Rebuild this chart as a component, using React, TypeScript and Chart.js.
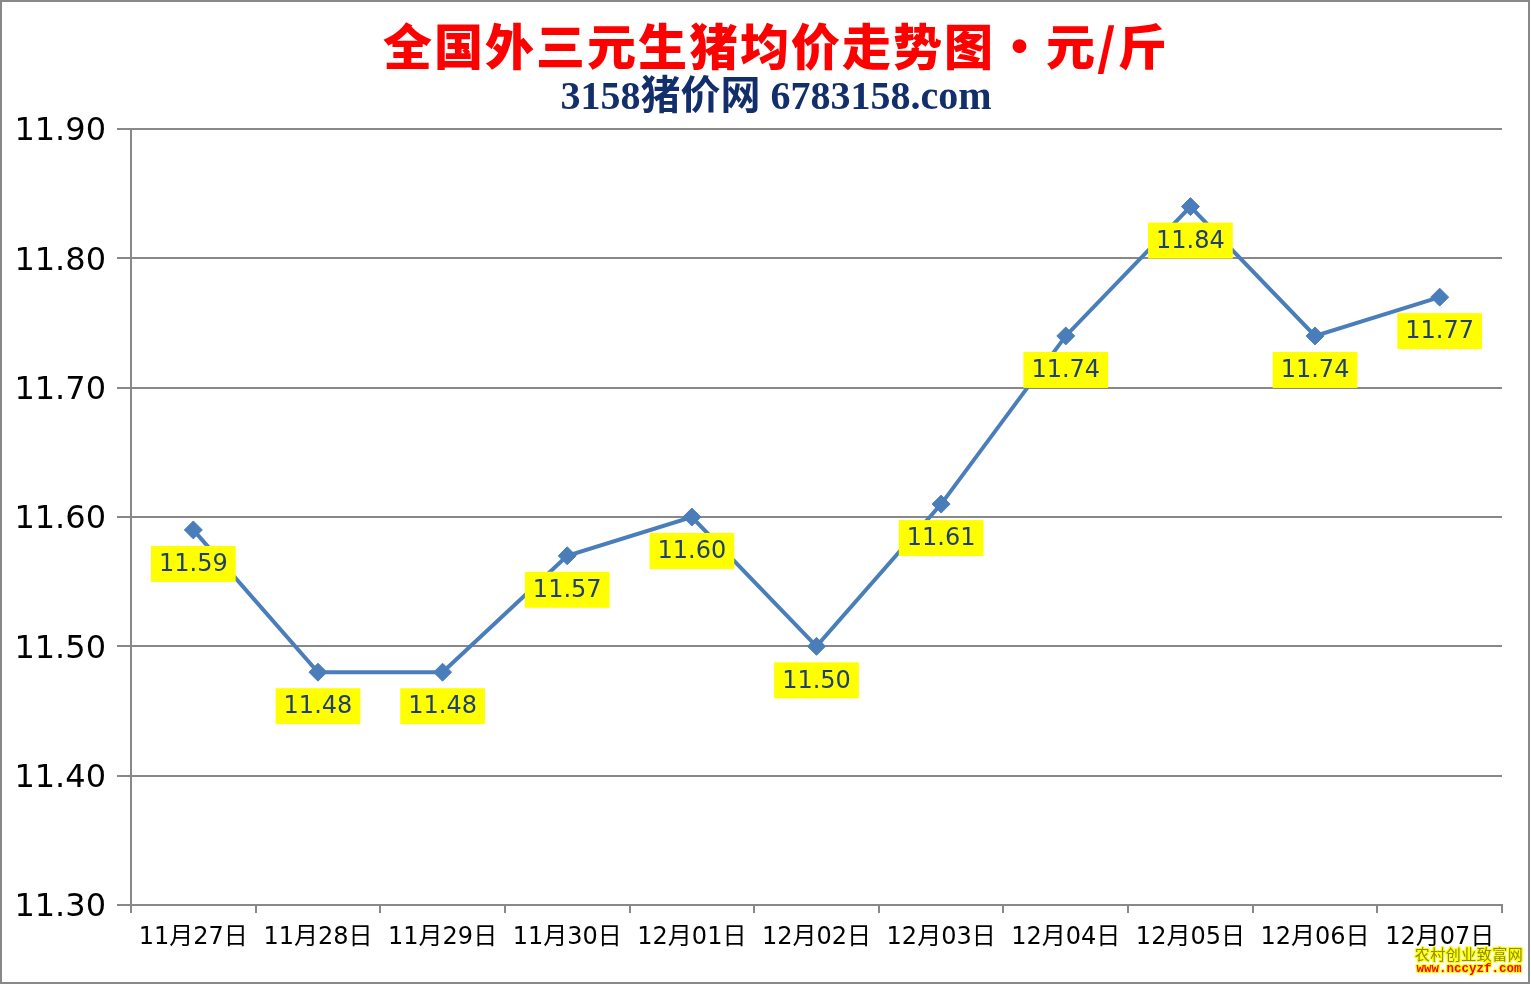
import React, { useEffect, useRef } from "react";
import { Chart, registerables } from "chart.js";

Chart.register(...registerables);

const categories = [
  "11月27日", "11月28日", "11月29日", "11月30日", "12月01日", "12月02日",
  "12月03日", "12月04日", "12月05日", "12月06日", "12月07日",
];
const prices = [11.59, 11.48, 11.48, 11.57, 11.6, 11.5, 11.61, 11.74, 11.84, 11.74, 11.77];
const yMin = 11.3;
const yMax = 11.9;
const yStep = 0.1;
const titleText = "全国外三元生猪均价走势图・元/斤";
const subtitleText = "3158猪价网 6783158.com";
const watermarkLine1 = "农村创业致富网";
const watermarkLine2 = "www.nccyzf.com";

const BASE_FONT = 'DejaVu Sans, "Noto Sans CJK SC", sans-serif';

const headerPlugin = {
  id: "headerText",
  afterDraw(chart: any) {
    const ctx = chart.ctx as CanvasRenderingContext2D;
    ctx.save();
    ctx.textAlign = "center";
    ctx.textBaseline = "middle";
    ctx.fillStyle = "#FF0000";
    ctx.font = '900 49px "Noto Sans CJK SC", sans-serif';
    (ctx as any).letterSpacing = "2px";
    ctx.fillText(titleText, 776, 46);
    ctx.fillStyle = "#132F6B";
    ctx.font = 'bold 40px "Liberation Serif", "Noto Sans CJK SC", serif';
    (ctx as any).letterSpacing = "0px";
    ctx.fillText(subtitleText, 776, 99);
    ctx.restore();
  },
};

const dataLabelPlugin = {
  id: "dataLabels",
  afterDatasetsDraw(chart: any) {
    const ctx = chart.ctx as CanvasRenderingContext2D;
    const meta = chart.getDatasetMeta(0);
    const values = chart.data.datasets[0].data as number[];
    ctx.save();
    ctx.font = '24px "DejaVu Sans", sans-serif';
    ctx.textAlign = "center";
    ctx.textBaseline = "middle";
    meta.data.forEach((pt: any, i: number) => {
      const txt = values[i].toFixed(2);
      const w = ctx.measureText(txt).width + 16;
      const h = 36;
      const cx = pt.x;
      const cy = pt.y + 34;
      ctx.fillStyle = "#FFFF00";
      ctx.fillRect(cx - w / 2, cy - h / 2, w, h);
      ctx.fillStyle = "#1F3F73";
      ctx.fillText(txt, cx, cy + 1);
    });
    ctx.restore();
  },
};

export default function App() {
  const canvasRef = useRef<HTMLCanvasElement | null>(null);

  useEffect(() => {
    document.body.style.margin = "0";
    const canvas = canvasRef.current;
    if (!canvas) return;
    const chart = new Chart(canvas, {
      type: "line",
      data: {
        labels: categories,
        datasets: [
          {
            data: prices,
            borderColor: "#4A7EBB",
            backgroundColor: "#4A7EBB",
            borderWidth: 4,
            pointStyle: "rectRot",
            pointRadius: 9,
            pointBorderWidth: 1,
            pointBackgroundColor: "#4A7EBB",
            pointBorderColor: "#4A7EBB",
            tension: 0,
            fill: false,
          },
        ],
      },
      options: {
        responsive: false,
        animation: false,
        devicePixelRatio: 1,
        layout: { padding: { top: 129, right: 29, bottom: 0, left: 0 } },
        plugins: {
          legend: { display: false },
          tooltip: { enabled: false },
          title: { display: false },
        },
        scales: {
          x: {
            type: "category",
            offset: true,
            afterFit: (s: any) => {
              s.height = 80;
            },
            grid: {
              offset: true,
              drawOnChartArea: false,
              drawTicks: true,
              tickLength: 8,
              color: "#888888",
              lineWidth: 2,
            },
            border: { display: true, color: "#888888", width: 2 },
            ticks: {
              color: "#000000",
              font: { family: BASE_FONT, size: 24 },
              padding: 10,
              maxRotation: 0,
              autoSkip: false,
            },
          },
          y: {
            min: yMin,
            max: yMax,
            afterFit: (s: any) => {
              s.width = 131;
            },
            grid: {
              color: "#888888",
              lineWidth: 2,
              drawTicks: true,
              tickLength: 14,
            },
            border: { display: true, color: "#888888", width: 2 },
            ticks: {
              stepSize: yStep,
              color: "#000000",
              font: { family: BASE_FONT, size: 32 },
              padding: 11,
              labelOffset: 3,
              callback: (v: any) => Number(v).toFixed(2),
            },
          },
        },
      },
      plugins: [headerPlugin, dataLabelPlugin],
    });
    return () => chart.destroy();
  }, []);

  const outline =
    "1px 0 #FFFF00, -1px 0 #FFFF00, 0 1px #FFFF00, 0 -1px #FFFF00, 1px 1px #FFFF00, -1px -1px #FFFF00, 1px -1px #FFFF00, -1px 1px #FFFF00";

  return (
    <div style={{ position: "relative", width: 1531, height: 985, background: "#FFFFFF" }}>
      <canvas ref={canvasRef} width={1531} height={985} style={{ display: "block" }} />
      <div
        style={{
          position: "absolute",
          left: 0,
          top: 0,
          width: 1530,
          height: 984,
          boxSizing: "border-box",
          border: "2px solid #888888",
          pointerEvents: "none",
        }}
      />
      <div
        style={{
          position: "absolute",
          left: 1414,
          top: 946,
          width: 110,
          textAlign: "center",
          lineHeight: 1,
        }}
      >
        <div
          style={{
            fontFamily: '"Noto Sans CJK SC", sans-serif',
            fontSize: 15,
            color: "#8C8C00",
            textShadow: outline,
            letterSpacing: 0.5,
            whiteSpace: "nowrap",
          }}
        >
          {watermarkLine1}
        </div>
        <div
          style={{
            fontFamily: '"Liberation Mono", monospace',
            fontWeight: "bold",
            fontSize: 12.5,
            color: "#FF0000",
            textShadow: outline,
            marginTop: 2,
            whiteSpace: "nowrap",
          }}
        >
          {watermarkLine2}
        </div>
      </div>
    </div>
  );
}
